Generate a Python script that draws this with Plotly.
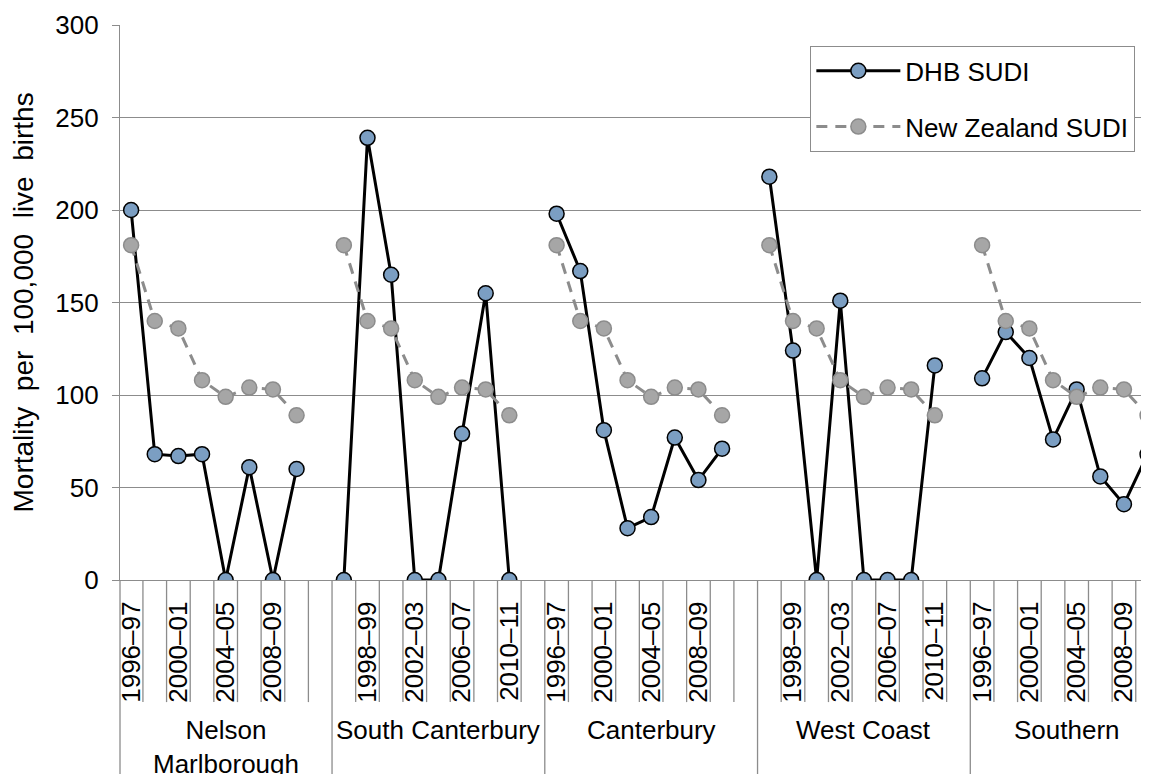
import plotly.graph_objects as go

# ---------------- data ----------------
groups = ["Nelson<br>Marlborough", "South Canterbury", "Canterbury", "West Coast", "Southern"]
periods = ["1996–97", "1998–99", "2000–01", "2002–03", "2004–05", "2006–07", "2008–09", "2010–11"]

dhb_nelson = [200, 68, 67, 68, 0, 61, 0, 60]
dhb_south_canterbury = [0, 239, 165, 0, 0, 79, 155, 0]
dhb_canterbury = [198, 167, 81, 28, 34, 77, 54, 71]
dhb_west_coast = [218, 124, 0, 151, 0, 0, 0, 116]
dhb_southern = [109, 134, 120, 76, 103, 56, 41, 68]

nz_sudi = [181, 140, 136, 108, 99, 104, 103, 89]

dhb_series = [dhb_nelson, dhb_south_canterbury, dhb_canterbury, dhb_west_coast, dhb_southern]

# ---------------- build category positions ----------------
slots = len(periods) + 1  # one blank category after each group (as in the source)
x_vals, dhb_y, nz_y, tick_vals, tick_text = [], [], [], [], []
for g, vals in enumerate(dhb_series):
    for i in range(slots):
        idx = g * slots + i
        x_vals.append(idx)
        tick_vals.append(idx)
        if i < len(periods):
            dhb_y.append(vals[i])
            nz_y.append(nz_sudi[i])
            tick_text.append(periods[i] if idx % 2 == 0 else "")
        else:
            dhb_y.append(None)
            nz_y.append(None)
            tick_text.append("")

GRID = "#8c8c8c"
FONT = "Liberation Sans, Arial, sans-serif"
FS = 26

fig = go.Figure()
fig.add_trace(go.Scatter(
    x=x_vals, y=dhb_y, mode="lines+markers", name="DHB SUDI",
    legendgroup="a", connectgaps=False,
    line=dict(color="#000000", width=3),
    marker=dict(symbol="circle", size=15, color="#7b9ec2",
                line=dict(color="#000000", width=1.5)),
))
fig.add_trace(go.Scatter(
    x=x_vals, y=nz_y, mode="lines+markers", name="New Zealand SUDI",
    legendgroup="b", connectgaps=False,
    line=dict(color="#8c8c8c", width=3, dash="11px,8px"),
    marker=dict(symbol="circle", size=15, color="#a6a6a6",
                line=dict(color="#8c8c8c", width=1.5)),
))

x_lo, x_hi = -0.47, 43.06
n_total = len(groups) * slots

shapes = []
# small separators between categories in label area
for k in range(n_total):
    b = k + 0.5
    if b >= x_hi:
        break
    long = ((k + 1) % slots == 0)
    shapes.append(dict(type="line", xref="x", yref="paper", x0=b, x1=b,
                       y0=0, y1=-0.36 if long else -0.22,
                       line=dict(color=GRID, width=1.3)))
# left border of the category area
shapes.append(dict(type="line", xref="paper", yref="paper", x0=0, x1=0,
                   y0=0, y1=-0.36, line=dict(color=GRID, width=1.3)))

annotations = []
for g, name in enumerate(groups):
    start = g * slots - 0.5
    end = min(start + slots, x_hi)
    annotations.append(dict(
        x=(start + end) / 2 if g < len(groups) - 1 else (start + end) / 2 + 0.3,
        xref="x", y=-0.24, yref="paper", text=name, showarrow=False,
        xanchor="center", yanchor="top",
        font=dict(family=FONT, size=FS, color="#000000")))
annotations.append(dict(
    x=-0.0933, xref="paper", y=0.5, yref="paper",
    text="Mortality  per  100,000  live  births", textangle=-90, showarrow=False,
    xanchor="center", yanchor="middle",
    font=dict(family=FONT, size=28, color="#000000")))

# page body has an 8px margin, so the figure is sized/offset to land on the same pixels
fig.update_layout(
    width=1141, height=766,
    margin=dict(l=112, r=0, t=17, b=194, autoexpand=False),
    paper_bgcolor="white", plot_bgcolor="white",
    font=dict(family=FONT, size=FS, color="#000000"),
    shapes=shapes, annotations=annotations,
    showlegend=True,
    legend=dict(x=0.6706, y=0.962, xanchor="left", yanchor="top",
                bgcolor="white", bordercolor=GRID, borderwidth=1.3,
                font=dict(family=FONT, size=26, color="#000000"),
                traceorder="grouped", tracegroupgap=19, itemwidth=84),
    xaxis=dict(range=[x_lo, x_hi], tickmode="array", tickvals=tick_vals,
               ticktext=tick_text, tickangle=-90, showgrid=False, zeroline=False,
               showline=True, linecolor=GRID, linewidth=1.3, ticks="",
               ticklabelstandoff=10, fixedrange=True,
               tickfont=dict(family=FONT, size=FS, color="#000000")),
    yaxis=dict(range=[0, 300], tickmode="array", tickvals=[0, 50, 100, 150, 200, 250, 300],
               showgrid=True, gridcolor=GRID, gridwidth=1.3, zeroline=False,
               showline=True, linecolor=GRID, linewidth=1.3,
               ticks="outside", ticklen=7, tickcolor=GRID, tickwidth=1.3,
               ticklabelstandoff=8,
               tickfont=dict(family=FONT, size=FS, color="#000000")),
)

fig.write_html("out.html")
